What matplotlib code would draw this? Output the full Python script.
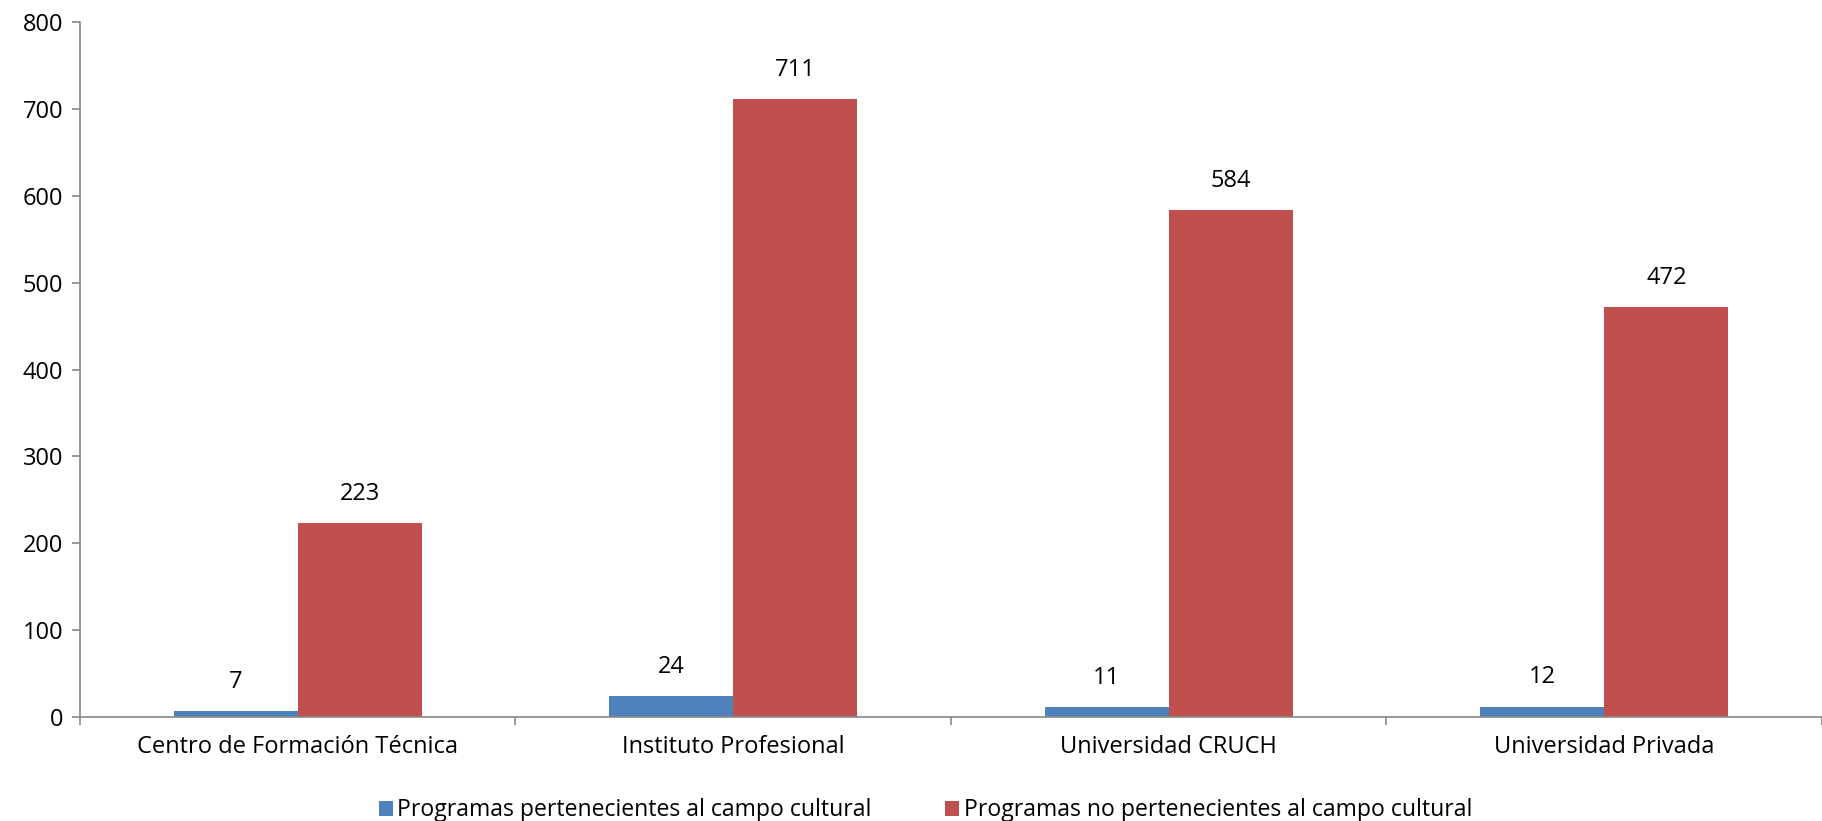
import matplotlib.pyplot as plt
import numpy as np

plt.rcParams['font.family'] = ['Open Sans', 'DejaVu Sans']

categorias = ['Centro de Formación Técnica', 'Instituto Profesional',
              'Universidad CRUCH', 'Universidad Privada']
cultural = [7, 24, 11, 12]
no_cultural = [223, 711, 584, 472]
series_names = ['Programas pertenecientes al campo cultural',
                'Programas no pertenecientes al campo cultural']

fig = plt.figure(figsize=(18.22, 8.21), dpi=100)
ax = fig.add_axes([0.0439, 0.1267, 0.9561, 0.8463])

x = np.arange(len(categorias))
w = 0.285
b1 = ax.bar(x - w / 2, cultural, w, color='#4F81BD', label=series_names[0])
b2 = ax.bar(x + w / 2, no_cultural, w, color='#C0504D', label=series_names[1])

# data labels
for bars, vals in [(b1, cultural), (b2, no_cultural)]:
    for rect, v in zip(bars, vals):
        ax.annotate(str(v), (rect.get_x() + rect.get_width() / 2, v),
                    xytext=(0, 21), textcoords='offset points',
                    ha='center', va='center', fontsize=17)

ax.set_xlim(-0.5, len(categorias) - 0.5)
ax.set_ylim(0, 800)
ax.set_yticks(range(0, 801, 100))
ax.set_xticks(x)
ax.set_xticklabels(categorias, fontsize=17)
ax.set_xticks(np.arange(-0.5, len(categorias), 1), minor=True)
ax.tick_params(axis='x', which='major', length=0, pad=13)
ax.tick_params(axis='x', which='minor', length=6, color='#888888', width=1.2)
ax.tick_params(axis='y', length=6, color='#888888', width=1.2, labelsize=17, pad=6)

for s in ['top', 'right']:
    ax.spines[s].set_visible(False)
for s in ['left', 'bottom']:
    ax.spines[s].set_color('#888888')
    ax.spines[s].set_linewidth(1.2)

fig.legend(loc='lower center', bbox_to_anchor=(0.508, -0.027), ncol=2, frameon=False,
           fontsize=16.6, handlelength=0.6, handleheight=0.6, handletextpad=0.2,
           columnspacing=3.2)

fig.savefig('out.png', dpi=100)
